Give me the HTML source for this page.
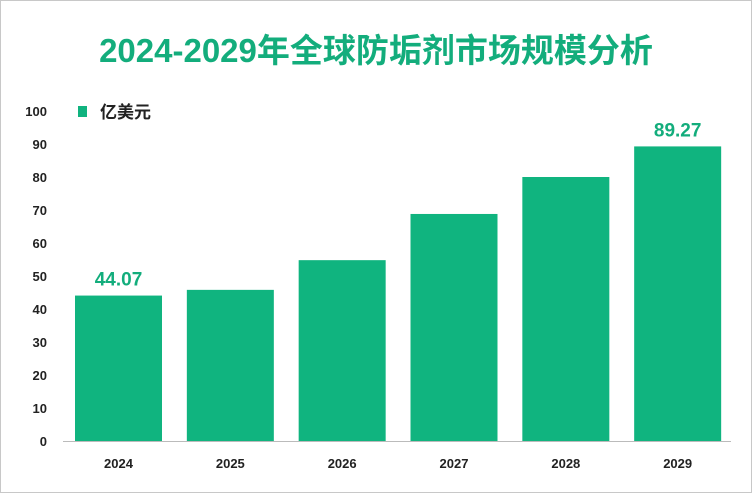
<!DOCTYPE html>
<html><head><meta charset="utf-8"><style>
body{margin:0;background:#fff}
#c{position:relative;width:752px;height:493px;overflow:hidden;background:#fff;font-family:"Liberation Sans","Noto Sans CJK SC",sans-serif}
#frame{position:absolute;left:0;top:0;width:750px;height:491px;border:1px solid #c8c8c8}
</style></head><body>
<div id="c">
<div id="frame"></div>
<svg id="s" width="752" height="493" style="position:absolute;left:0;top:0">
<text x="376" y="62" text-anchor="middle" font-size="33" font-weight="bold" fill="#13ad7c" font-family="Liberation Sans, Noto Sans CJK SC, sans-serif">2024-2029年全球防垢剂市场规模分析</text>
<rect x="78" y="106" width="9" height="11" fill="#10b37f"/>
<text x="100" y="118" font-size="17" font-weight="bold" fill="#222" font-family="Liberation Sans, Noto Sans CJK SC, sans-serif">亿美元</text>
<line x1="63" y1="441.5" x2="731" y2="441.5" stroke="#bbb" stroke-width="1"/>
</svg>
</div>
<script>
const categories=["2024","2025","2026","2027","2028","2029"];
const values=[44.07,45.8,54.8,68.8,80.0,89.27];
const shownLabels=["44.07","","","","","89.27"];
const yTicks=[0,10,20,30,40,50,60,70,80,90,100];
const NS="http://www.w3.org/2000/svg";
const svg=document.getElementById('s');
const y0=441,y100=111,left=63,right=734;
const yScale=v=>y0-(v/100)*(y0-y100);
const band=(right-left)/categories.length;
const xScale=i=>left+band*i;
const bw=87;
function mk(t,a){const e=document.createElementNS(NS,t);for(const k in a)e.setAttribute(k,a[k]);svg.appendChild(e);return e;}
yTicks.forEach(t=>{
 const e=mk('text',{x:47,y:yScale(t)+5,'text-anchor':'end','font-size':'13','font-weight':'bold',fill:'#222'});
 e.textContent=t;
 
 
});
categories.forEach((c,i)=>{
 const cx=xScale(i)+12+bw/2;
 const r=mk('rect',{x:cx-bw/2,y:yScale(values[i]),width:bw,height:y0-yScale(values[i]),fill:'#10b47f'});
 
 
 const t=mk('text',{x:cx,y:468,'text-anchor':'middle','font-size':'13','font-weight':'bold',fill:'#222'});
 t.textContent=c;
 
 
 if(shownLabels[i]){
  const l=mk('text',{x:cx,y:yScale(values[i])-10,'text-anchor':'middle','font-size':'19','font-weight':'bold',fill:'#13ad7c'});
  l.textContent=shownLabels[i];
  
  
 }
});
</script>
</body></html>
